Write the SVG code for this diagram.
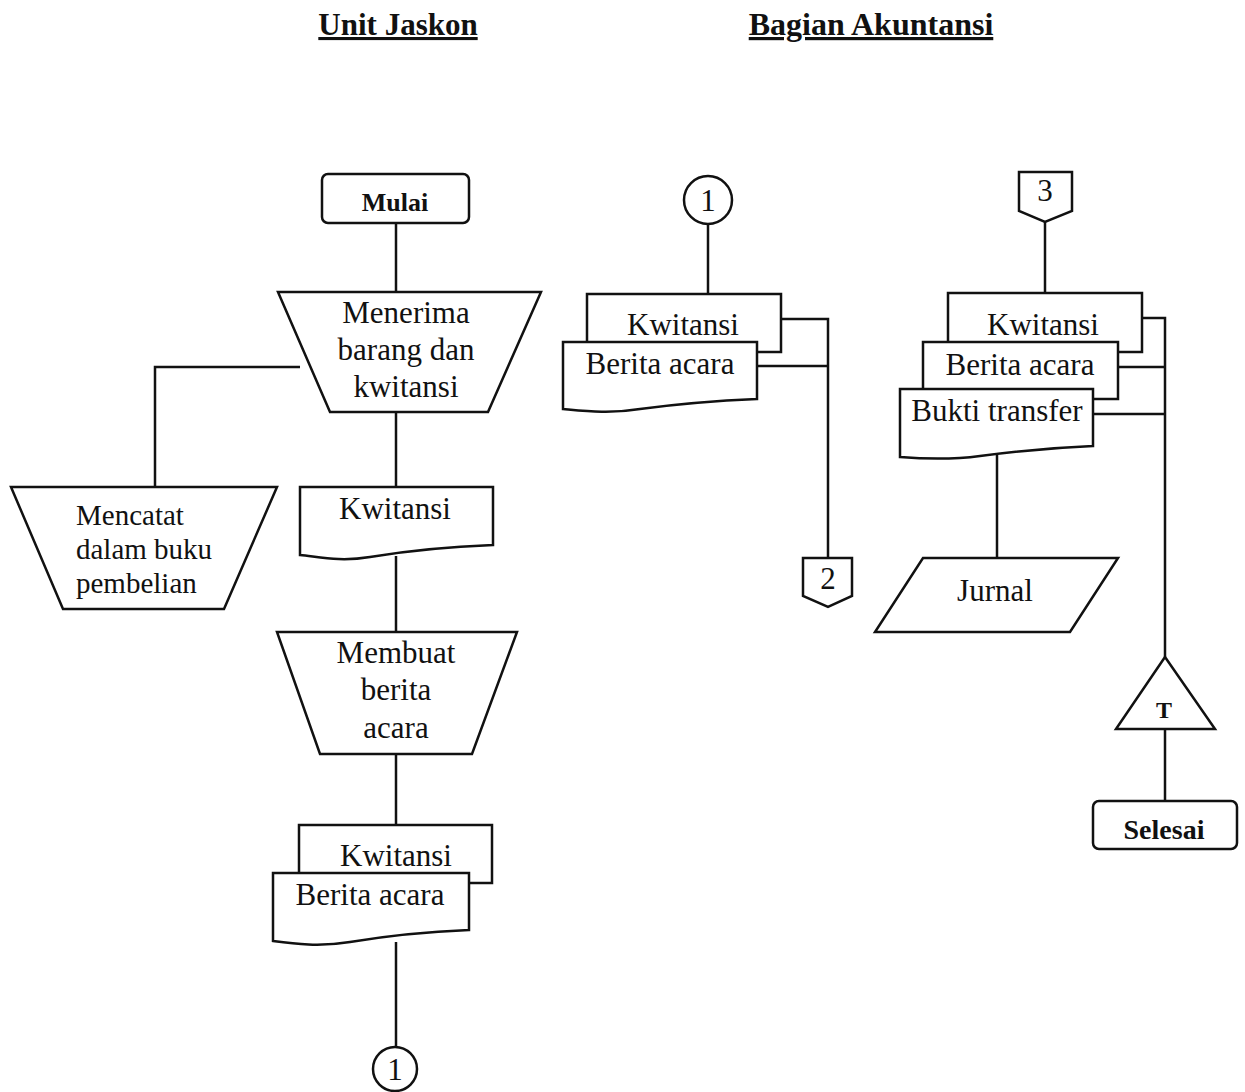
<svg xmlns="http://www.w3.org/2000/svg" width="1245" height="1092" viewBox="0 0 1245 1092" font-family="'Liberation Serif', 'Times New Roman', serif">
<style>
.s{fill:#fff;stroke:#111;stroke-width:2.5;stroke-linejoin:miter}
.c{fill:none;stroke:#111;stroke-width:2.5}
text{font-family:'Liberation Serif','Times New Roman',serif;fill:#111;font-weight:normal}
.t{font-size:31px;text-anchor:middle}
.tl{font-size:29px}
.b{font-weight:bold;text-anchor:middle}
.h{font-weight:bold;text-anchor:middle;text-decoration:underline}
</style>
<rect width="1245" height="1092" fill="#fff"/>
<g id="headers">
<text class="h" x="398" y="35" font-size="31">Unit Jaskon</text>
<text class="h" x="871" y="35" font-size="32">Bagian Akuntansi</text>
</g>
<g id="connectors">
<path class="c" d="M396 223V292"/>
<path class="c" d="M300 367H155V487"/>
<path class="c" d="M396 412V487"/>
<path class="c" d="M396 556V632"/>
<path class="c" d="M396 754V825"/>
<path class="c" d="M396 942V1046"/>
<path class="c" d="M708 225V294"/>
<path class="c" d="M781 319H828V558"/>
<path class="c" d="M757 366H828"/>
<path class="c" d="M1045 222V293"/>
<path class="c" d="M1142 318H1165V657"/>
<path class="c" d="M1118 367H1165"/>
<path class="c" d="M1093 414H1165"/>
<path class="c" d="M997 455V558"/>
<path class="c" d="M1165 729V801"/>
</g>
<g id="mulai">
<rect class="s" x="322" y="174" width="147" height="49" rx="6"/>
<text class="b" x="395" y="211" font-size="26">Mulai</text>
</g>
<g id="menerima">
<path class="s" d="M278 292H541L488 412H330Z"/>
<text class="t" x="406" y="323">Menerima</text>
<text class="t" x="406" y="360">barang dan</text>
<text class="t" x="406" y="397">kwitansi</text>
</g>
<g id="mencatat">
<path class="s" d="M11 487H277L224 609H63Z"/>
<text class="tl" x="76" y="525">Mencatat</text>
<text class="tl" x="76" y="559">dalam buku</text>
<text class="tl" x="76" y="593">pembelian</text>
</g>
<g id="kwitansi1">
<path class="s" d="M300 487H493V545C440 547 400 552 370 557C340 562 320 557 300 555Z"/>
<text class="t" x="395" y="519">Kwitansi</text>
</g>
<g id="membuat">
<path class="s" d="M277 632H517L472 754H320Z"/>
<text class="t" x="396" y="663">Membuat</text>
<text class="t" x="396" y="700">berita</text>
<text class="t" x="396" y="738">acara</text>
</g>
<g id="docs-jaskon">
<rect class="s" x="299" y="825" width="193" height="58"/>
<text class="t" x="396" y="866">Kwitansi</text>
<path class="s" d="M273 873H469V930C420 932 380 937 350 942C320 947 295 944 273 941Z"/>
<text class="t" x="370" y="905">Berita acara</text>
</g>
<g id="conn1-out">
<circle class="s" cx="395" cy="1069" r="22"/>
<text class="t" x="395" y="1080" font-size="28">1</text>
</g>
<g id="conn1-in">
<circle class="s" cx="708" cy="200" r="24"/>
<text class="t" x="708" y="211" font-size="28">1</text>
</g>
<g id="docs-akun1">
<rect class="s" x="587" y="294" width="194" height="58"/>
<text class="t" x="683" y="335">Kwitansi</text>
<path class="s" d="M563 342H757V399C710 401 670 405 640 409C610 414 585 411 563 409Z"/>
<text class="t" x="660" y="374">Berita acara</text>
</g>
<g id="offpage2">
<path class="s" d="M803 558H852V596L828 607L803 596Z"/>
<text class="t" x="828" y="589" font-size="28">2</text>
</g>
<g id="offpage3">
<path class="s" d="M1019 172H1072V211L1045 222L1019 211Z"/>
<text class="t" x="1045" y="201" font-size="28">3</text>
</g>
<g id="docs-akun2">
<rect class="s" x="948" y="293" width="194" height="59"/>
<text class="t" x="1043" y="335">Kwitansi</text>
<rect class="s" x="923" y="342" width="195" height="57"/>
<text class="t" x="1020" y="375">Berita acara</text>
<path class="s" d="M900 389H1093V446C1045 448 1010 452 980 456C950 460 925 459 900 457Z"/>
<text class="t" x="997" y="421">Bukti transfer</text>
</g>
<g id="jurnal">
<path class="s" d="M923 558H1118L1070 632H875Z"/>
<text class="t" x="995" y="601">Jurnal</text>
</g>
<g id="arsip">
<path class="s" d="M1165 657L1215 729H1116Z"/>
<text class="b" x="1164" y="718" font-size="24">T</text>
</g>
<g id="selesai">
<rect class="s" x="1093" y="801" width="144" height="48" rx="6"/>
<text class="b" x="1164" y="839" font-size="28">Selesai</text>
</g>
</svg>
